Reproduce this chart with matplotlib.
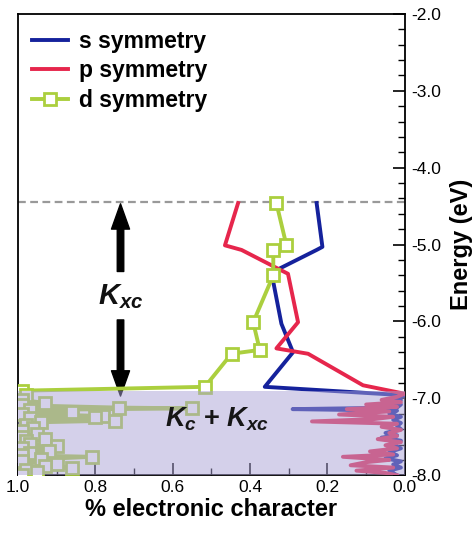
import matplotlib
matplotlib.use("Agg")
import matplotlib.pyplot as plt
from matplotlib.patches import Rectangle
from matplotlib.ticker import MultipleLocator

plt.rcParams['font.family'] = ['Liberation Sans', 'DejaVu Sans']
plt.rcParams['mathtext.fontset'] = 'custom'
plt.rcParams['mathtext.it'] = 'Liberation Sans:bold:italic'
plt.rcParams['mathtext.rm'] = 'Liberation Sans:bold'
plt.rcParams['mathtext.bf'] = 'Liberation Sans:bold'

# s symmetry: energy (eV) vs fraction of electronic character
s_energy = [-4.46, -5.03, -5.07, -5.31, -5.46, -6.03, -6.40, -6.85, -6.96,
            -6.99, -7.02, -7.05, -7.08, -7.12, -7.14, -7.16, -7.20, -7.24,
            -7.28, -7.32, -7.36, -7.40, -7.45, -7.48, -7.51, -7.55, -7.60,
            -7.65, -7.70, -7.74, -7.78, -7.82, -7.86, -7.90, -7.94, -8.00]
s_frac = [0.228, 0.213, 0.228, 0.323, 0.341, 0.319, 0.289, 0.362, 0.0,
          0.03, 0.01, 0.04, 0.01, 0.02, 0.29, 0.02, 0.04, 0.01,
          0.03, 0.01, 0.02, 0.01, 0.05, 0.02, 0.06, 0.01, 0.03,
          0.01, 0.04, 0.02, 0.05, 0.01, 0.03, 0.01, 0.04, 0.02]

# p symmetry
p_energy = [-4.46, -5.01, -5.07, -5.38, -6.01, -6.35, -6.42, -6.83, -6.94,
            -6.98, -7.02, -7.05, -7.08, -7.11, -7.14, -7.17, -7.21, -7.24,
            -7.27, -7.30, -7.33, -7.37, -7.41, -7.45, -7.49, -7.53, -7.57,
            -7.61, -7.65, -7.69, -7.73, -7.76, -7.80, -7.83, -7.87, -7.90,
            -7.94, -7.97, -8.00]
p_frac = [0.431, 0.465, 0.422, 0.302, 0.276, 0.332, 0.25, 0.108, 0.0,
          0.02, 0.06, 0.01, 0.10, 0.02, 0.15, 0.04, 0.17, 0.03,
          0.08, 0.24, 0.02, 0.06, 0.01, 0.04, 0.02, 0.07, 0.01,
          0.05, 0.02, 0.09, 0.03, 0.16, 0.04, 0.10, 0.14, 0.03,
          0.125, 0.05, 0.02]

# d symmetry
d_energy = [-4.46, -5.01, -5.07, -5.40, -6.01, -6.37, -6.42, -6.85, -6.90,
            -6.96, -7.02, -7.06, -7.09, -7.12, -7.13, -7.15, -7.18, -7.20,
            -7.23, -7.24, -7.26, -7.29, -7.31, -7.34, -7.38, -7.42, -7.46,
            -7.50, -7.53, -7.56, -7.59, -7.62, -7.65, -7.68, -7.71, -7.74,
            -7.76, -7.79, -7.82, -7.85, -7.88, -7.90, -7.93, -7.96, -8.00]
d_frac = [0.332, 0.306, 0.340, 0.340, 0.392, 0.375, 0.448, 0.517, 0.99,
          0.98, 0.99, 0.93, 0.99, 0.74, 0.55, 0.97, 0.86, 0.99,
          0.78, 0.80, 0.97, 0.75, 0.94, 0.98, 0.96, 0.99, 0.95,
          0.99, 0.93, 0.98, 0.97, 0.90, 0.99, 0.92, 0.97, 0.99,
          0.81, 0.94, 0.99, 0.90, 0.93, 0.86, 0.98, 0.95, 0.99]

vac_level = -4.45
band_edge = -6.91

fig = plt.figure(figsize=(4.74, 5.34), dpi=100)
ax = fig.add_axes([0.038, 0.110, 0.816, 0.864])

ax.plot(s_frac, s_energy, color='#15229c', lw=2.8, label='s symmetry', zorder=3)
ax.plot(p_frac, p_energy, color='#e6264c', lw=2.8, label='p symmetry', zorder=3)
ax.plot(d_frac, d_energy, color='#abcf3e', lw=2.8, marker='s', ms=8,
        mfc='white', mew=2.0, label='d symmetry', zorder=4)

# shaded band region (semi-transparent overlay)
ax.add_patch(Rectangle((0, -8.0), 1.0, band_edge + 8.0, facecolor='#aba3d6',
                       alpha=0.5, edgecolor='none', zorder=5))

ax.axhline(vac_level, color='#999999', lw=1.6, dashes=(3.5, 2), zorder=2)

arrow = dict(arrowstyle='simple,head_width=1.0,head_length=1.4,tail_width=0.36',
             color='black', mutation_scale=13, shrinkA=0, shrinkB=0)
ax.annotate('', xy=(0.735, -4.47), xytext=(0.735, -5.35), arrowprops=arrow)
ax.annotate('', xy=(0.735, -6.97), xytext=(0.735, -5.98), arrowprops=arrow)
ax.text(0.735, -5.68, r'$K_{xc}$', fontsize=21, ha='center', va='center',
        color='#111111')
ax.text(0.486, -7.27, r'$K_c$ + $K_{xc}$', fontsize=19.5, ha='center',
        va='center', fontweight='bold', color='#161616', zorder=6)

ax.set_xlim(1.0, 0.0)
ax.set_ylim(-8.0, -2.0)
ax.xaxis.set_major_locator(MultipleLocator(0.2))
ax.xaxis.set_minor_locator(MultipleLocator(0.1))
ax.yaxis.set_major_locator(MultipleLocator(1.0))
ax.yaxis.set_minor_locator(MultipleLocator(0.2))
ax.xaxis.set_major_formatter(lambda v, p: f'{v:.1f}')
ax.yaxis.set_major_formatter(lambda v, p: f'{v:.1f}')
ax.yaxis.tick_right()
ax.yaxis.set_label_position('right')
ax.tick_params(which='major', direction='in', length=9, width=1.2, labelsize=12.5)
ax.tick_params(which='minor', direction='in', length=5, width=1.0)
ax.tick_params(axis='y', pad=5)
for sp in ax.spines.values():
    sp.set_linewidth(1.3)

ax.set_xlabel('% electronic character', fontsize=17, fontweight='bold', labelpad=2)
ax.set_ylabel('Energy (eV)', fontsize=17, fontweight='bold', labelpad=6)

leg = ax.legend(loc='upper left', bbox_to_anchor=(0.0, 0.995), frameon=False,
                fontsize=16.5, handlelength=1.6, handletextpad=0.45,
                labelspacing=0.28, borderaxespad=0.2)
for t in leg.get_texts():
    t.set_fontweight('bold')

fig.savefig('out.png', dpi=100)
